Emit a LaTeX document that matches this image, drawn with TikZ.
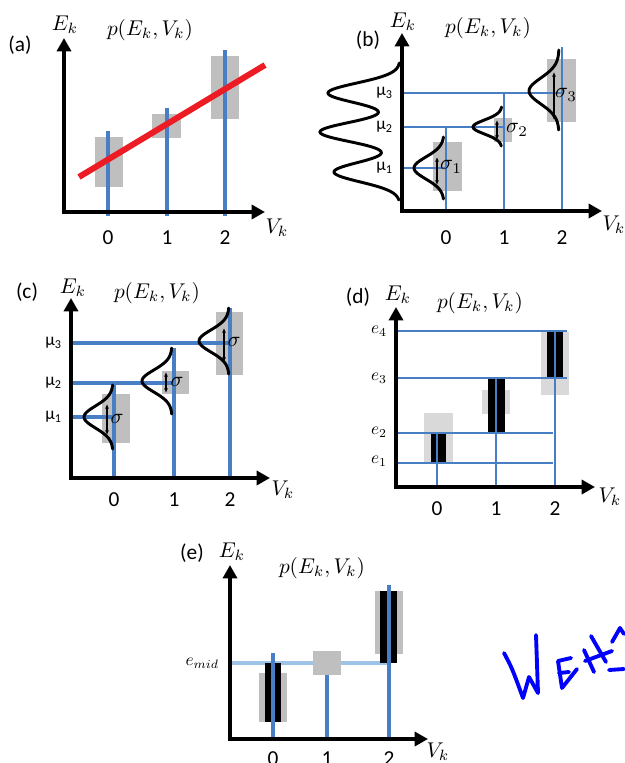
\documentclass[tikz,border=0pt]{standalone}
\usepackage{fontspec}
\setmainfont{Carlito}
\usetikzlibrary{arrows.meta}
\definecolor{barblue}{RGB}{72,126,196}
\definecolor{paleblue}{RGB}{157,195,230}
\definecolor{boxgray}{RGB}{191,191,191}
\definecolor{boxlight}{RGB}{217,217,217}
\definecolor{fitred}{RGB}{237,28,36}
\definecolor{inkblue}{RGB}{0,0,255}

\begin{document}
\begin{tikzpicture}[x=0.75pt, y=-0.75pt,
    ax/.style={line width=3.6pt, {Triangle[length=10pt,width=10.5pt]}-{Triangle[length=10pt,width=10.5pt]}},
    vbar/.style={barblue, line width=#1}, vbar/.default=3.6pt,
    gbox/.style={fill=boxgray},
    lbox/.style={fill=boxlight},
    bbar/.style={fill=black},
    bell/.style={line width=2.2pt, line cap=round},
    sig/.style={line width=0.9pt, {Latex[length=3.5pt,width=3pt]}-{Latex[length=3.5pt,width=3pt]}},
    tag/.style={font=\normalsize, scale=1.6},
    num/.style={font=\normalsize, scale=1.6},
    var/.style={font=\normalsize, scale=1.6},
    lev/.style={font=\normalsize, scale=1.3, anchor=east},
    inkpen/.style={inkblue, line width=2.9pt, line cap=round, line join=round}
  ]
  \useasboundingbox (0,0) rectangle (624,763);

  % ===== (a) linear fit =====
  \fill[gbox] (95,137) rectangle (123,187);
  \fill[gbox] (152,114) rectangle (181,138);
  \fill[gbox] (211,56) rectangle (239,119);
  \draw[vbar] (108,131) -- (108,216);
  \draw[vbar] (167,108) -- (167,216);
  \draw[vbar] (225,50) -- (225,216);
  \draw[ax] (64,38) |- (265,212);
  \draw[fitred, line width=4.5pt] (79,177) -- (265,65);
  \node[tag] (atag) at (20,45) {(a)};
  \node[var] (aE) at (65,25) {$E_k$};
  \node[var] (aP) at (150,30) {$p(E_k,V_k)$};
  \node[var] (aV) at (277,228) {$V_k$};
  \foreach \x/\n in {108/0,167/1,225/2}
    \node[num] (a\n) at (\x,238) {\n};

  % ===== (b) means and widths per V =====
  \fill[gbox] (433,142) rectangle (462,191);
  \fill[gbox] (494,118) rectangle (512,142);
  \fill[gbox] (547,59) rectangle (576,122);
  \draw[vbar=1.6pt] (446,127) -- (446,211);
  \draw[vbar=1.6pt] (504,93) -- (504,211);
  \draw[vbar=1.6pt] (562,47) -- (562,211);
  \draw[vbar=1.6pt] (402,93) -- (562,93);
  \draw[vbar=1.6pt] (402,127) -- (504,127);
  \draw[vbar=1.6pt] (402,168) -- (446,168);
  \draw[bell] plot[domain=137:199, samples=40, variable=\t] ({444-30*exp(-((\t-168)^2)/242)}, \t);
  \draw[bell] plot[domain=107:146, samples=40, variable=\t] ({502-29*exp(-((\t-127)^2)/98)}, \t);
  \draw[bell] plot[domain=50:130, samples=40, variable=\t] ({559-30*exp(-((\t-91)^2)/338)}, \t);
  \draw[bell] plot[domain=63:200, samples=120, variable=\t]
    ({400-72*exp(-((\t-93)^2)/195)-80*exp(-((\t-132)^2)/195)-66*exp(-((\t-172)^2)/195)}, \t);
  \draw[sig] (437,157) -- (437,185);
  \draw[sig] (497,120) -- (497,140);
  \draw[sig] (554,72) -- (554,120);
  \draw[ax] (402,33) |- (602,211);
  \node[var] (bs1) at (451,167) {$\sigma_1$};
  \node[var] (bs2) at (517,130) {$\sigma_2$};
  \node[var] (bs3) at (566,95) {$\sigma_3$};
  \node[lev] (bm3) at (399,93) {μ\textsubscript{3}};
  \node[lev] (bm2) at (399,127) {μ\textsubscript{2}};
  \node[lev] (bm1) at (399,168) {μ\textsubscript{1}};
  \node[tag] (btag) at (368,40) {(b)};
  \node[var] (bE) at (403,22) {$E_k$};
  \node[var] (bP) at (488,28) {$p(E_k,V_k)$};
  \node[var] (bV) at (614,225) {$V_k$};
  \foreach \x/\n in {446/0,504/1,562/2}
    \node[num] (b\n) at (\x,238) {\n};

  % ===== (c) shared width =====
  \fill[gbox] (102,394) rectangle (130,443);
  \fill[gbox] (162,371) rectangle (189,394);
  \fill[gbox] (216,312) rectangle (243,375);
  \draw[vbar=3pt] (114,384) -- (114,478);
  \draw[vbar=3pt] (174,348) -- (174,478);
  \draw[vbar=3pt] (230,308) -- (230,478);
  \draw[vbar=3pt] (71,417) -- (114,417);
  \draw[vbar=3pt] (71,383) -- (174,383);
  \draw[vbar=3pt] (71,343) -- (230,343);
  \draw[bell] plot[domain=385:449, samples=40, variable=\t] ({113-29*exp(-((\t-417)^2)/242)}, \t);
  \draw[bell] plot[domain=348:414, samples=40, variable=\t] ({172-30*exp(-((\t-381)^2)/242)}, \t);
  \draw[bell] plot[domain=308:374, samples=40, variable=\t] ({229-30*exp(-((\t-341)^2)/242)}, \t);
  \draw[sig] (107,404) -- (107,435);
  \draw[sig] (166,372) -- (166,393);
  \draw[sig] (224,328) -- (224,362);
  \draw[ax] (71,298) |- (270,478);
  \node[var] (cs1) at (117,419) {$\sigma$};
  \node[var] (cs2) at (177,382) {$\sigma$};
  \node[var] (cs3) at (234,342) {$\sigma$};
  \node[lev] (cm3) at (68,343) {μ\textsubscript{3}};
  \node[lev] (cm2) at (68,383) {μ\textsubscript{2}};
  \node[lev] (cm1) at (68,417) {μ\textsubscript{1}};
  \node[tag] (ctag) at (27,292) {(c)};
  \node[var] (cE) at (73,288) {$E_k$};
  \node[var] (cP) at (157,293) {$p(E_k,V_k)$};
  \node[var] (cV) at (283,490) {$V_k$};
  \foreach \x/\n in {114/0,174/1,230/2}
    \node[num] (c\n) at (\x,500) {\n};

  % ===== (d) energy bins =====
  \fill[lbox] (424,413) rectangle (453,462);
  \fill[lbox] (482,390) rectangle (510,414);
  \fill[lbox] (541,332) rectangle (569,395);
  \fill[bbar] (431,433) rectangle (446,463);
  \fill[bbar] (488,378) rectangle (505,433);
  \fill[bbar] (547,331) rectangle (563,378);
  \draw[vbar=1.9pt] (396,331) -- (567,331);
  \draw[vbar=1.9pt] (396,378) -- (567,378);
  \draw[vbar=1.9pt] (396,433) -- (553,433);
  \draw[vbar=1.9pt] (396,463) -- (553,463);
  \draw[vbar=1.9pt] (437,433) -- (437,487);
  \draw[vbar=1.9pt] (496,378) -- (496,487);
  \draw[vbar=1.9pt] (555,331) -- (555,487);
  \draw[ax] (396,307) |- (595,487);
  \node[lev] (de4) at (393,331) {$e_4$};
  \node[lev] (de3) at (393,378) {$e_3$};
  \node[lev] (de2) at (393,432) {$e_2$};
  \node[lev] (de1) at (393,461) {$e_1$};
  \node[tag] (dtag) at (358,297) {(d)};
  \node[var] (dE) at (398,295) {$E_k$};
  \node[var] (dP) at (480,303) {$p(E_k,V_k)$};
  \node[var] (dV) at (610,497) {$V_k$};
  \foreach \x/\n in {437/0,496/1,555/2}
    \node[num] (d\n) at (\x,509) {\n};

  % ===== (e) single threshold =====
  \draw[paleblue, line width=3.4pt] (230,663) -- (389,663);
  \fill[gbox] (259,673) rectangle (287,722);
  \fill[gbox] (313,651) rectangle (341,675);
  \fill[gbox] (375,591) rectangle (403,654);
  \fill[bbar] (265,663) rectangle (281,722);
  \fill[bbar] (380,591) rectangle (397,663);
  \draw[vbar=3pt] (273,653) -- (273,739);
  \draw[vbar=3pt] (327,675) -- (327,739);
  \draw[vbar=3pt] (389,585) -- (389,739);
  \draw[ax] (230,565) |- (428,739);
  \node[lev] (emid) at (225,663) {$e_{mid}$};
  \node[tag] (etag) at (192,553) {(e)};
  \node[var] (eE) at (232,552) {$E_k$};
  \node[var] (eP) at (322,568) {$p(E_k,V_k)$};
  \node[var] (eV) at (438,752) {$V_k$};
  \foreach \x/\n in {273/0,327/1,389/2}
    \node[num] (e\n) at (\x,759) {\n};

  % handwriting
  \draw[inkpen] (504,653) .. controls (512,668) .. (523,698) -- (529,677) -- (538,693) -- (536,635);
  \draw[inkpen] (571,658) -- (558,661) -- (562,688) -- (577,669);
  \draw[inkpen] (559,673) -- (569,672);
  \draw[inkpen] (584,650) -- (594,672);
  \draw[inkpen] (591,636) -- (606,662);
  \draw[inkpen] (585,661) -- (612,651);
  \draw[inkpen] (612,642) -- (620,628) -- (624,634);
  \draw[inkpen] (609,670) -- (624,669);
\end{tikzpicture}
\end{document}
